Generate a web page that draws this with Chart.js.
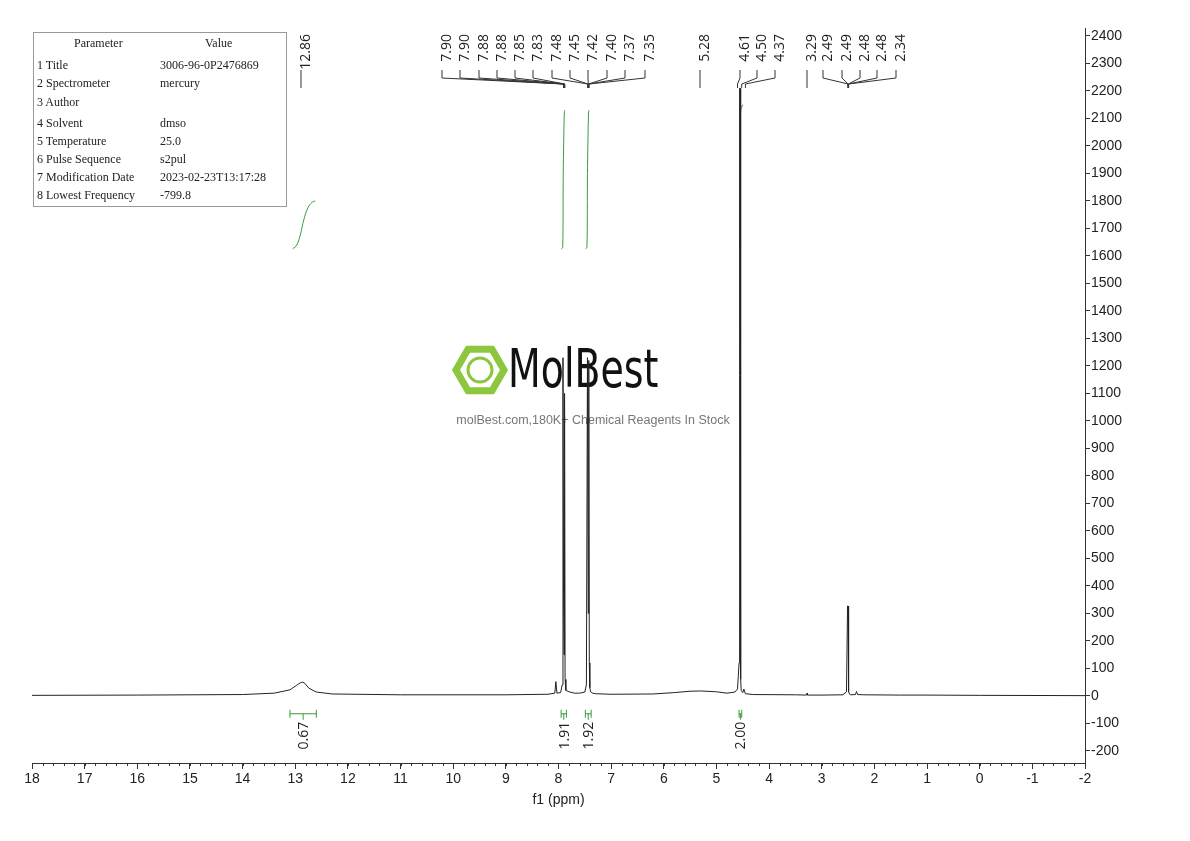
<!DOCTYPE html>
<html><head><meta charset="utf-8">
<script src="https://cdn.jsdelivr.net/npm/chart.js@4/dist/chart.umd.min.js"></script>
<style>
html,body{margin:0;padding:0;background:#fff;}
#wrap{position:relative;width:1190px;height:841px;}
#tbl{position:absolute;left:33px;top:32px;width:254px;height:175px;border:1px solid #999;font-family:"Liberation Serif",serif;font-size:12px;color:#222;box-sizing:border-box;}
#tbl div{position:absolute;white-space:nowrap;}
</style></head>
<body><div id="wrap"><canvas id="c" width="1190" height="841"></canvas><div id="tbl"></div></div>
<script>
// spectrum polyline (ppm, intensity)
const specPpm = [18,16,14,13.4,13.1,12.98,12.9,12.86,12.82,12.74,12.6,12.3,11,9,8.2,8.07,8.05,8.03,7.96,7.93,7.915,7.905,7.895,7.885,7.875,7.86,7.8,7.7,7.6,7.5,7.47,7.45,7.435,7.425,7.415,7.405,7.39,7.35,7.3,7,6.2,5.8,5.5,5.3,5.0,4.8,4.65,4.6,4.57,4.56,4.55,4.54,4.53,4.5,4.48,4.45,4.3,3.5,3.29,3.28,3.27,3,2.6,2.53,2.51,2.5,2.49,2.47,2.45,2.36,2.34,2.32,2.2,1.5,1.0,0,-2];
const specInt = [2,3,5,10,22,38,48,50,46,28,14,7,4,4,6,10,52,10,12,40,1230,400,150,1100,60,20,15,10,10,14,40,1230,300,1220,120,30,15,10,8,6,7,12,17,18,15,10,14,25,120,2210,2210,60,20,12,25,8,5,4,3,10,3,3,4,15,327,327,15,6,4,5,16,5,4,3,3,2,1];
// integrals (ppm, curve value) and labels
const int1Ppm=[13.05,12.97,12.9,12.84,12.76,12.68,12.62], int1Val=[1625,1640,1680,1730,1775,1795,1800];
const int2Ppm=[7.95,7.92,7.91,7.89,7.88], int2Val=[1625,1632,1900,2120,2130];
const int3Ppm=[7.49,7.46,7.45,7.43,7.42], int3Val=[1625,1632,1900,2120,2130];
const int4Ppm=[4.56,4.555,4.55,4.54,4.5], int4Val=[1630,1650,2000,2130,2150];
const integralLabels=["0.67","1.91","1.92","2.00"];
const integralFrom=[13.1,7.95,7.49,4.57];
const integralTo=[12.6,7.85,7.38,4.52];
// peak labels
const peakLabels=["12.86","7.90","7.90","7.88","7.88","7.85","7.83","7.48","7.45","7.42","7.40","7.37","7.35","5.28","4.61","4.50","4.37","3.29","2.49","2.49","2.48","2.48","2.34"];
const peakLabelX=[301,442,460,479,497,515,533,552,570,588,607,625,645,700,740,757,775,807,823,842,860,877,896];
const peakPos=[12.86,7.905,7.90,7.895,7.89,7.885,7.88,7.445,7.44,7.435,7.43,7.425,7.42,5.28,4.60,4.52,4.45,3.29,2.50,2.50,2.495,2.495,2.49];
const xTicks=[18,17,16,15,14,13,12,11,10,9,8,7,6,5,4,3,2,1,0,-1,-2];
const params=[["Parameter","Value"],["1 Title","3006-96-0P2476869"],["2 Spectrometer","mercury"],["3 Author",""],["4 Solvent","dmso"],["5 Temperature","25.0"],["6 Pulse Sequence","s2pul"],["7 Modification Date","2023-02-23T13:17:28"],["8 Lowest Frequency","-799.8"]];

const tbl=document.getElementById('tbl');
const rowY=[3,25,43,62,83,101,119,137,155];
params.forEach((r,i)=>{
  const a=document.createElement('div');a.textContent=r[0];a.style.top=rowY[i]+'px';a.style.left=(i==0?40:3)+'px';
  const b=document.createElement('div');b.textContent=r[1];b.style.top=rowY[i]+'px';b.style.left=(i==0?171:126)+'px';
  tbl.appendChild(a);tbl.appendChild(b);
});

const pts=(xs,ys)=>xs.map((x,i)=>({x:x,y:ys[i]}));
const green='#3a9a3a';
const FONT='"Liberation Sans",Arial,sans-serif';
const overlay={
 id:'overlay',
 beforeDatasetsDraw(ch){
  const c=ch.ctx;c.save();
  const cx=480,cy=370;
  c.strokeStyle='#8dc63f';c.lineWidth=7;c.beginPath();
  for(let i=0;i<6;i++){const a=Math.PI/3*i;const px=cx+24*Math.cos(a),py=cy+24*Math.sin(a);i?c.lineTo(px,py):c.moveTo(px,py);}
  c.closePath();c.stroke();
  c.lineWidth=3;c.beginPath();c.arc(cx,cy,12,0,Math.PI*2);c.stroke();
  c.fillStyle='#111';c.font='54px "DejaVu Sans Condensed","Liberation Sans Narrow",sans-serif';c.textBaseline='middle';c.textAlign='left';
  c.save();c.translate(508,373);c.scale(0.78,1);c.fillText('MolBest',0,0);c.restore();
  c.fillStyle='#777';c.font='12.5px '+FONT;c.textAlign='center';
  c.fillText('molBest.com,180K+ Chemical Reagents In Stock',593,421);
  c.restore();
 },
 afterDraw(ch){
  const c=ch.ctx,xs=ch.scales.x,ys=ch.scales.y;c.save();
  c.strokeStyle='#333';c.lineWidth=1;
  for(let v=-2;v<=18.001;v+=0.2){const px=Math.round(xs.getPixelForValue(v))+0.5;c.beginPath();c.moveTo(px,ys.bottom);c.lineTo(px,ys.bottom+3);c.stroke();}
  c.font='14px "Open Sans","DejaVu Sans",sans-serif';c.fillStyle='#222';
  peakLabels.forEach((t,i)=>{
    const lx=peakLabelX[i],px=xs.getPixelForValue(peakPos[i]);
    c.save();c.translate(lx+5,34);c.rotate(-Math.PI/2);c.textAlign='right';c.textBaseline='middle';c.fillText(t,0,0);c.restore();
    c.beginPath();
    if(i==0||i==13||i==17){c.moveTo(lx,70);c.lineTo(lx,88);}
    else{c.moveTo(lx,70);c.lineTo(lx,78);c.lineTo(px,84);c.lineTo(px,88);}
    c.stroke();
  });
  c.strokeStyle=green;c.fillStyle='#222';
  integralLabels.forEach((t,i)=>{
    const a=xs.getPixelForValue(integralFrom[i]),b=xs.getPixelForValue(integralTo[i]),y=ys.getPixelForValue(-65);
    c.beginPath();c.moveTo(a,y);c.lineTo(b,y);c.moveTo(a,y-4);c.lineTo(a,y+4);c.moveTo(b,y-4);c.lineTo(b,y+4);
    const m=(a+b)/2;c.moveTo(m,y);c.lineTo(m,y+6);c.stroke();
    c.save();c.translate(m+1,y+8);c.rotate(-Math.PI/2);c.textAlign='right';c.textBaseline='middle';c.fillText(t,0,0);c.restore();
  });
  c.restore();
 }
};

new Chart(document.getElementById('c'),{
 type:'line',
 data:{datasets:[
  {data:pts(specPpm,specInt),borderColor:'#222',borderWidth:1,pointRadius:0,tension:0},
  {data:pts(int1Ppm,int1Val),borderColor:green,borderWidth:1,pointRadius:0,tension:0.4},
  {data:pts(int2Ppm,int2Val),borderColor:green,borderWidth:1,pointRadius:0,tension:0.3},
  {data:pts(int3Ppm,int3Val),borderColor:green,borderWidth:1,pointRadius:0,tension:0.3},
  {data:pts(int4Ppm,int4Val),borderColor:green,borderWidth:1,pointRadius:0,tension:0.3}
 ]},
 options:{responsive:false,animation:false,devicePixelRatio:1,
  layout:{padding:{left:32,right:45,top:28,bottom:32}},
  plugins:{legend:{display:false},tooltip:{enabled:false}},
  scales:{
   x:{type:'linear',reverse:true,min:-2,max:18,
     afterBuildTicks:s=>{s.ticks=xTicks.map(v=>({value:v}));},
     afterFit:s=>{s.height=46;},
     grid:{display:true,drawOnChartArea:false,tickLength:6,color:'#333'},border:{color:'#333'},
     ticks:{color:'#222',font:{size:14,family:FONT},maxRotation:0,autoSkip:false,padding:2,callback:v=>String(v)},
     title:{display:true,text:'f1 (ppm)',color:'#222',font:{size:14,family:FONT},padding:{top:-4,bottom:0}}},
   y:{position:'right',min:-244,max:2429,
     afterBuildTicks:s=>{const t=[];for(let v=-200;v<=2400;v+=100)t.push({value:v});s.ticks=t;},
     afterFit:s=>{s.width=60;},
     grid:{display:true,drawOnChartArea:false,tickLength:5,color:'#333'},border:{color:'#333'},
     ticks:{color:'#222',font:{size:14,family:FONT},padding:1,autoSkip:false,callback:v=>String(v)}}
  }},
 plugins:[overlay]
});
</script></body></html>
